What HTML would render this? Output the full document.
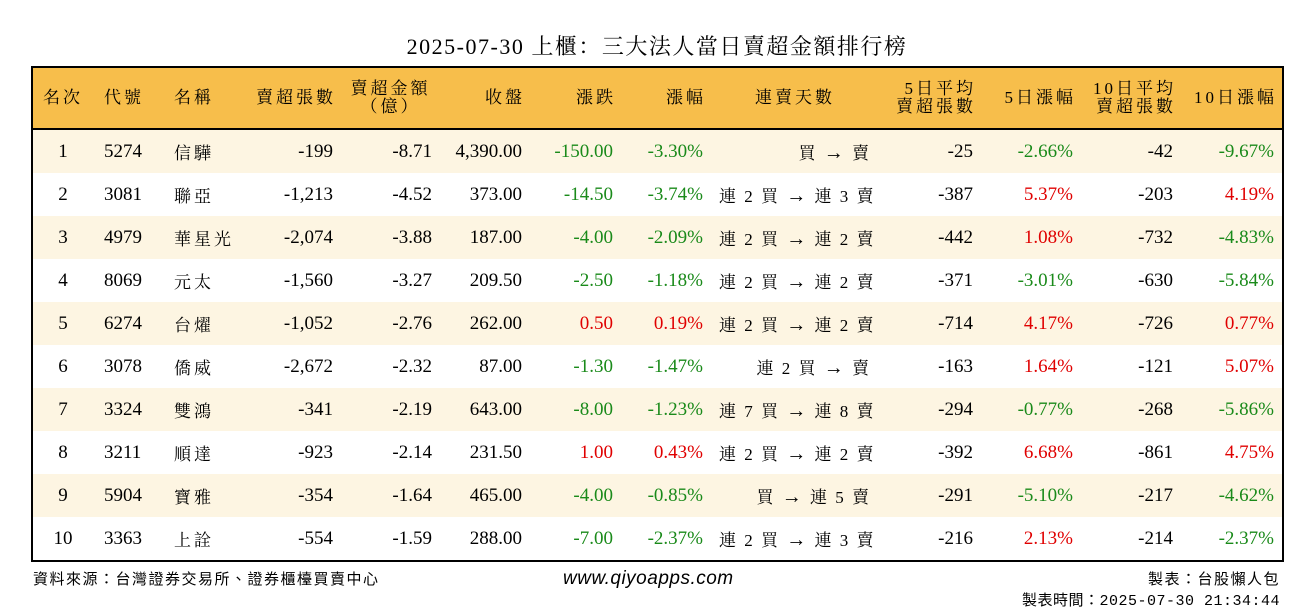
<!DOCTYPE html>
<html><head><meta charset="utf-8">
<style>
body{margin:0;width:1314px;height:612px;background:#fff;overflow:hidden;position:relative;font-family:"Liberation Serif","Noto Serif CJK SC",serif;}
#title{position:absolute;top:30px;left:0;width:1314px;text-align:center;font-size:22px;color:#000;letter-spacing:1.5px;}
#tbl{position:absolute;left:31px;top:66px;border-collapse:collapse;border:2px solid #000;table-layout:fixed;width:1253px;}
#tbl th{background:#F7BE4B;height:60px;font-weight:normal;font-size:17px;line-height:18px;border-bottom:2px solid #000;padding:0 8px;text-align:right;letter-spacing:3px;}
#tbl td{height:43px;padding:0 8px;font-size:19px;text-align:right;white-space:nowrap;}
#tbl tr:nth-child(odd) td{background:#FDF5E2;}
.g{color:#1A8A1A}.r{color:#E00000}
.c{text-align:center!important}.l{text-align:left!important}
.ar{font-family:"Liberation Sans",sans-serif;font-size:20px;}
.foot{position:absolute;font-family:"Liberation Sans","Noto Sans CJK TC",sans-serif;font-size:15px;color:#000;letter-spacing:1.5px;}
</style></head><body>
<div id="title">2025-07-30 上櫃：三大法人當日賣超金額排行榜</div>
<table id="tbl">
<colgroup><col style="width:61px"><col style="width:73px"><col style="width:75px"><col style="width:100px"><col style="width:99px"><col style="width:90px"><col style="width:91px"><col style="width:90px"><col style="width:168px"><col style="width:102px"><col style="width:100px"><col style="width:100px"><col style="width:102px"></colgroup>
<thead><tr>
<th class="c" style="padding:0">名次</th><th class="l" style="padding-left:11px">代號</th><th class="l">名稱</th><th style="padding-right:5px">賣超張數</th><th class="c">賣超金額<br>（億）</th><th style="padding-right:5px">收盤</th><th style="padding-right:5px">漲跌</th><th style="padding-right:5px">漲幅</th><th class="c">連賣天數</th><th style="padding-right:5px">5日平均<br>賣超張數</th><th style="padding-right:5px">5日漲幅</th><th style="padding-right:5px">10日平均<br>賣超張數</th><th style="padding-right:5px">10日漲幅</th>
</tr></thead>
<tbody id="body"></tbody>
</table>
<div class="foot" style="left:33px;top:568px;">資料來源：台灣證券交易所、證券櫃檯買賣中心</div>
<div class="foot" style="left:563px;top:568px;font-size:19px;font-style:italic;letter-spacing:0.5px;">www.qiyoapps.com</div>
<div class="foot" style="right:34px;top:568px;">製表：台股懶人包</div>
<div class="foot" style="right:34px;top:589px;font-family:'Liberation Mono','Noto Sans CJK TC',monospace;letter-spacing:0.5px;">製表時間：2025-07-30 21:34:44</div>
<script>
const codes=["5274","3081","4979","8069","6274","3078","3324","3211","5904","3363"];
const names=["信驊","聯亞","華星光","元太","台燿","僑威","雙鴻","順達","寶雅","上詮"];
const netSell=["-199","-1,213","-2,074","-1,560","-1,052","-2,672","-341","-923","-354","-554"];
const amount=["-8.71","-4.52","-3.88","-3.27","-2.76","-2.32","-2.19","-2.14","-1.64","-1.59"];
const close=["4,390.00","373.00","187.00","209.50","262.00","87.00","643.00","231.50","465.00","288.00"];
const change=["-150.00","-14.50","-4.00","-2.50","0.50","-1.30","-8.00","1.00","-4.00","-7.00"];
const pct=["-3.30%","-3.74%","-2.09%","-1.18%","0.19%","-1.47%","-1.23%","0.43%","-0.85%","-2.37%"];
const streakFrom=["買","連 2 買","連 2 買","連 2 買","連 2 買","連 2 買","連 7 買","連 2 買","買","連 2 買"];
const streakTo=["賣","連 3 賣","連 2 賣","連 2 賣","連 2 賣","賣","連 8 賣","連 2 賣","連 5 賣","連 3 賣"];
const avg5=["-25","-387","-442","-371","-714","-163","-294","-392","-291","-216"];
const pct5=["-2.66%","5.37%","1.08%","-3.01%","4.17%","1.64%","-0.77%","6.68%","-5.10%","2.13%"];
const avg10=["-42","-203","-732","-630","-726","-121","-268","-861","-217","-214"];
const pct10=["-9.67%","4.19%","-4.83%","-5.84%","0.77%","5.07%","-5.86%","4.75%","-4.62%","-2.37%"];
const tb=document.getElementById('body');
function col(v){return v.trim().startsWith('-')?'g':'r';}
codes.forEach((c,i)=>{
 const tr=document.createElement('tr');
 
 
 const cells=[[String(i+1),'c'],[c,'l'],[names[i],'l'],[netSell[i],''],[amount[i],''],[close[i],''],[change[i],col(change[i])],[pct[i],col(pct[i])],[null,''],[avg5[i],''],[pct5[i],col(pct5[i])],[avg10[i],''],[pct10[i],col(pct10[i])]];
 cells.forEach((cc,j)=>{
  const td=document.createElement('td');
  
  
  if(j==8){
   td.style.fontSize='17px';td.style.letterSpacing='2px';
   td.appendChild(document.createTextNode(streakFrom[i]+' '));
   const a=document.createElement('span');a.className='ar';a.textContent='→';
   
   
   td.appendChild(a);
   td.appendChild(document.createTextNode(' '+streakTo[i]));
  } else td.textContent=cc[0];
  if(cc[1])td.className=cc[1];
  if(j==0)td.style.padding='0';
  if(j==1)td.style.paddingLeft='11px';
  if(j==2){td.style.fontSize='17px';td.style.letterSpacing='3px';}
  tr.appendChild(td);
 });
 tb.appendChild(tr);
});
</script>
</body></html>
